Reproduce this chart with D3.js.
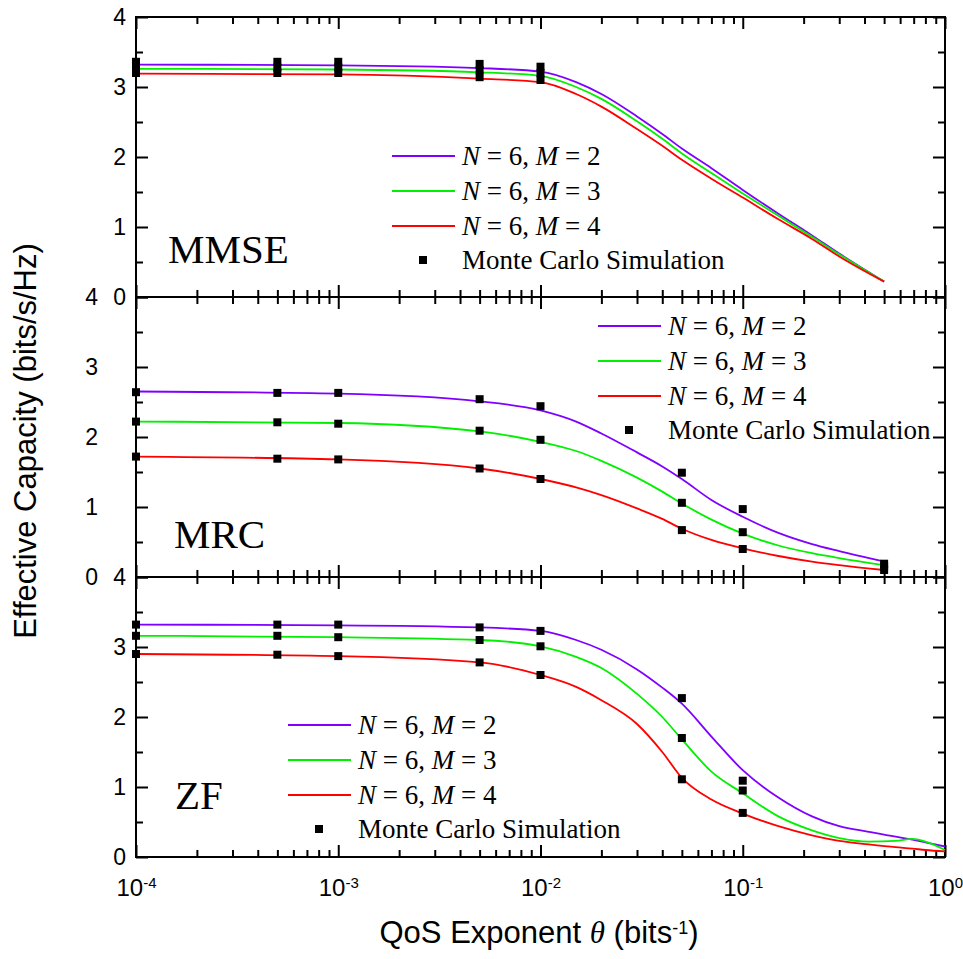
<!DOCTYPE html>
<html>
<head>
<meta charset="utf-8">
<script src="https://cdn.jsdelivr.net/npm/d3@7/dist/d3.min.js"></script>
<style>
  body { margin: 0; background: #fff; }
  .tick-label text { font-family: "Liberation Sans", Arial, sans-serif; font-size: 23px; fill: #000; }
  .legend text { font-family: "Liberation Serif", "Times New Roman", serif; font-size: 27px; fill: #000; }
</style>
</head>
<body>
<div id="chart"></div>
<script>
// ---- data ----
var seriesNames = ['N = 6, M = 2', 'N = 6, M = 3', 'N = 6, M = 4'];
var seriesColors = ['#8000ff', '#00f000', '#ff0000'];
var panelNames = ['MMSE', 'MRC', 'ZF'];
var xTickValues = [1e-4, 1e-3, 1e-2, 1e-1, 1];
var xTickExp = ['-4', '-3', '-2', '-1', '0'];
var yTickValues = [0, 1, 2, 3, 4];

// theta grid of the analytic curves
var lineTheta = [1e-4, 1e-3, 5e-3, 1e-2, 1.5e-2, 2e-2, 3e-2, 4e-2, 5e-2, 7e-2, 1e-1, 1.5e-1, 2.2e-1, 3e-1, 5e-1];
var zfTheta = [1e-4, 1e-3, 5e-3, 1e-2, 1.5e-2, 2e-2, 3e-2, 4e-2, 5e-2, 7e-2, 1e-1, 1.5e-1, 2.2e-1, 3e-1, 4.2e-1, 5.7e-1, 6.9e-1, 8e-1, 1];

// MMSE analytic curves
var mmseM2 = [3.32, 3.31, 3.27, 3.22, 3.07, 2.90, 2.58, 2.33, 2.12, 1.84, 1.53, 1.19, 0.88, 0.62, 0.22];
var mmseM3 = [3.26, 3.25, 3.21, 3.16, 3.00, 2.83, 2.51, 2.26, 2.05, 1.77, 1.48, 1.16, 0.86, 0.61, 0.22];
var mmseM4 = [3.19, 3.18, 3.12, 3.07, 2.90, 2.72, 2.40, 2.16, 1.96, 1.69, 1.42, 1.11, 0.83, 0.58, 0.22];

// MRC analytic curves
var mrcM2 = [2.65, 2.62, 2.51, 2.38, 2.22, 2.05, 1.78, 1.58, 1.40, 1.10, 0.86, 0.63, 0.47, 0.37, 0.22];
var mrcM3 = [2.22, 2.20, 2.08, 1.93, 1.80, 1.66, 1.42, 1.22, 1.05, 0.82, 0.62, 0.45, 0.34, 0.27, 0.17];
var mrcM4 = [1.72, 1.68, 1.55, 1.40, 1.28, 1.17, 0.98, 0.83, 0.69, 0.53, 0.41, 0.30, 0.22, 0.17, 0.10];

// ZF analytic curves
var zfM2 = [3.32, 3.31, 3.28, 3.23, 3.10, 2.96, 2.68, 2.42, 2.19, 1.72, 1.24, 0.85, 0.58, 0.44, 0.36, 0.29, 0.25, 0.21, 0.15];
var zfM3 = [3.16, 3.14, 3.10, 3.01, 2.86, 2.70, 2.33, 2.00, 1.68, 1.22, 0.91, 0.58, 0.38, 0.27, 0.22, 0.23, 0.26, 0.22, 0.10];
var zfM4 = [2.90, 2.87, 2.78, 2.60, 2.43, 2.24, 1.90, 1.50, 1.13, 0.82, 0.62, 0.44, 0.31, 0.23, 0.18, 0.14, 0.12, 0.10, 0.08];

// Monte Carlo simulation points
var simTheta = [1e-4, 5e-4, 1e-3, 5e-3, 1e-2, 5e-2, 1e-1, 5e-1];
var mmseSimM2 = [3.36, 3.36, 3.36, 3.33, 3.29];
var mmseSimM3 = [3.28, 3.28, 3.28, 3.24, 3.20];
var mmseSimM4 = [3.20, 3.20, 3.20, 3.14, 3.10];
var mrcSimM2 = [2.64, 2.63, 2.63, 2.54, 2.44, 1.49, 0.97, 0.19];
var mrcSimM3 = [2.22, 2.21, 2.19, 2.09, 1.96, 1.06, 0.64, 0.15];
var mrcSimM4 = [1.72, 1.69, 1.68, 1.55, 1.40, 0.67, 0.40, 0.10];
var zfSimM2 = [3.32, 3.32, 3.32, 3.28, 3.23, 2.27, 1.09];
var zfSimM3 = [3.16, 3.16, 3.14, 3.10, 3.01, 1.70, 0.95];
var zfSimM4 = [2.90, 2.89, 2.87, 2.78, 2.60, 1.11, 0.63];

// ---- layout ----
var width = 963, height = 959;
var plotLeft = 136, plotRight = 945;
var panelTop = [17, 297, 577];
var panelH = 280;

var panels = [
    { theta: lineTheta, lines: [mmseM2, mmseM3, mmseM4], sims: [mmseSimM2, mmseSimM3, mmseSimM4],
      labelPad: 10, legend: { x: 392, y: 156 }, name: { x: 168, y: 263 } },
    { theta: lineTheta, lines: [mrcM2, mrcM3, mrcM4], sims: [mrcSimM2, mrcSimM3, mrcSimM4],
      labelPad: 38, legend: { x: 598, y: 326 }, name: { x: 174, y: 548 } },
    { theta: zfTheta, lines: [zfM2, zfM3, zfM4], sims: [zfSimM2, zfSimM3, zfSimM4],
      labelPad: 10, legend: { x: 288, y: 725 }, name: { x: 175, y: 809 } }
];

var svg = d3.select('#chart').append('svg')
    .attr('width', width)
    .attr('height', height)
    .style('font-family', '"Liberation Sans", Arial, sans-serif');

var xScale = d3.scaleLog().domain([1e-4, 1]).range([plotLeft, plotRight]);

// minor ticks 2..9 of each decade
var xMinor = [];
[1e-4, 1e-3, 1e-2, 1e-1].forEach(function (d) {
    for (var k = 2; k <= 9; k++) xMinor.push(d * k);
});
var yMinor = [0.5, 1.5, 2.5, 3.5];

function styleTicks(g) {
    g.select('.domain').remove();
    g.selectAll('line').attr('stroke', '#000').attr('stroke-width', 2);
}

panels.forEach(function (p, i) {
    var top = panelTop[i], bottom = top + panelH;
    var yScale = d3.scaleLinear().domain([0, 4]).range([bottom, top]);
    var g = svg.append('g').attr('class', 'panel');

    // inward ticks on all four sides
    [[xTickValues, 12], [xMinor, 7]].forEach(function (t) {
        g.append('g').attr('transform', 'translate(0,' + bottom + ')')
            .call(d3.axisBottom(xScale).tickValues(t[0]).tickSize(-t[1]).tickFormat(''))
            .call(styleTicks);
        g.append('g').attr('transform', 'translate(0,' + top + ')')
            .call(d3.axisTop(xScale).tickValues(t[0]).tickSize(-t[1]).tickFormat(''))
            .call(styleTicks);
    });
    [[yTickValues, 12], [yMinor, 7]].forEach(function (t) {
        g.append('g').attr('transform', 'translate(' + plotLeft + ',0)')
            .call(d3.axisLeft(yScale).tickValues(t[0]).tickSize(-t[1]).tickFormat(''))
            .call(styleTicks);
        g.append('g').attr('transform', 'translate(' + plotRight + ',0)')
            .call(d3.axisRight(yScale).tickValues(t[0]).tickSize(-t[1]).tickFormat(''))
            .call(styleTicks);
    });

    // y tick labels
    g.append('g').attr('class', 'tick-label')
        .attr('transform', 'translate(' + plotLeft + ',0)')
        .call(d3.axisLeft(yScale).tickValues(yTickValues).tickSize(0).tickPadding(p.labelPad).tickFormat(d3.format('d')))
        .call(function (a) { a.select('.domain').remove(); });

    // frame
    g.append('rect')
        .attr('x', plotLeft).attr('y', top)
        .attr('width', plotRight - plotLeft).attr('height', panelH)
        .attr('fill', 'none').attr('stroke', '#000').attr('stroke-width', 2);

    // analytic curves
    var line = d3.line()
        .x(function (d) { return xScale(d[0]); })
        .y(function (d) { return yScale(d[1]); })
        .curve(d3.curveMonotoneX);

    p.lines.forEach(function (vals, k) {
        g.append('path')
            .attr('d', line(p.theta.map(function (t, j) { return [t, vals[j]]; })))
            .attr('fill', 'none')
            .attr('stroke', seriesColors[k])
            .attr('stroke-width', 1.8);
    });

    // simulation markers
    p.sims.forEach(function (vals) {
        g.selectAll(null)
            .data(vals.map(function (v, j) { return [simTheta[j], v]; }))
            .enter().append('rect')
            .attr('x', function (d) { return xScale(d[0]) - 4; })
            .attr('y', function (d) { return yScale(d[1]) - 4; })
            .attr('width', 8).attr('height', 8)
            .attr('fill', '#000');
    });

    // legend
    var lg = g.append('g').attr('class', 'legend')
        .attr('transform', 'translate(' + p.legend.x + ',' + p.legend.y + ')');
    seriesNames.forEach(function (name, k) {
        var row = lg.append('g').attr('transform', 'translate(0,' + (k * 35) + ')');
        row.append('line')
            .attr('x1', 0).attr('x2', 63).attr('y1', 0).attr('y2', 0)
            .attr('stroke', seriesColors[k]).attr('stroke-width', 1.8);
        var txt = row.append('text').attr('x', 70).attr('y', 9);
        txt.append('tspan').attr('font-style', 'italic').text('N');
        txt.append('tspan').text(' = 6, ');
        txt.append('tspan').attr('font-style', 'italic').text('M');
        txt.append('tspan').text(' = ' + name.slice(-1));
    });
    var simRow = lg.append('g').attr('transform', 'translate(0,' + (3 * 35 - 1) + ')');
    simRow.append('rect').attr('x', 27).attr('y', -4).attr('width', 8).attr('height', 8).attr('fill', '#000');
    simRow.append('text').attr('x', 70).attr('y', 9).text('Monte Carlo Simulation');

    // panel name
    g.append('text')
        .attr('x', p.name.x).attr('y', p.name.y)
        .style('font-family', '"Liberation Serif", "Times New Roman", serif')
        .style('font-size', '41px')
        .text(panelNames[i]);
});

// x tick labels (bottom panel only) with superscript exponents
var xl = svg.append('g').attr('class', 'tick-label')
    .attr('transform', 'translate(0,' + (panelTop[2] + panelH) + ')')
    .call(d3.axisBottom(xScale).tickValues(xTickValues).tickSize(0).tickPadding(22).tickFormat(''));
xl.select('.domain').remove();
xl.selectAll('.tick text').each(function (d, j) {
    var t = d3.select(this).style('font-size', '24px');
    t.append('tspan').text('10');
    t.append('tspan').attr('dy', '-0.55em').style('font-size', '15px').text(xTickExp[j]);
});

// axis titles
svg.append('text')
    .attr('transform', 'translate(36,' + 441 + ') rotate(-90)')
    .attr('text-anchor', 'middle')
    .style('font-size', '31px')
    .text('Effective Capacity (bits/s/Hz)');

var xt = svg.append('text')
    .attr('x', 539).attr('y', 943)
    .attr('text-anchor', 'middle')
    .style('font-size', '31px');
xt.append('tspan').text('QoS Exponent ');
xt.append('tspan').style('font-family', '"Liberation Serif", serif').attr('font-style', 'italic').text('θ');
xt.append('tspan').text(' (bits');
xt.append('tspan').attr('dy', '-0.5em').style('font-size', '18px').text('-1');
xt.append('tspan').attr('dy', '0.3em').text(')');
</script>
</body>
</html>
